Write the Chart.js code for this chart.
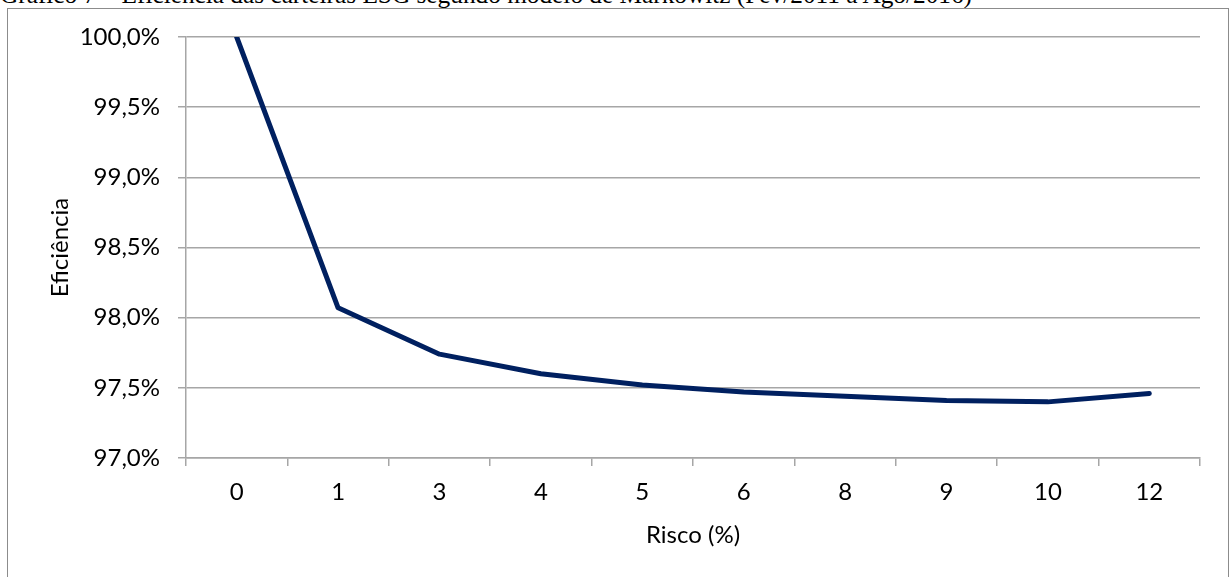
<!DOCTYPE html>
<html>
<head>
<meta charset="utf-8">
<script src="https://cdn.jsdelivr.net/npm/chart.js@4.4.1/dist/chart.umd.min.js"></script>
<style>
  body { margin: 0; background: #fff; width: 1230px; height: 577px; overflow: hidden; position: relative; }
  #title { position: absolute; left: 0; top: -18px; font: 25.3px "Liberation Serif"; line-height: 25px; white-space: nowrap; }
  #frame { position: absolute; left: 7px; top: 8px; width: 1220px; height: 600px; border: 1px solid #8c8c8c; }
  #chart { position: absolute; left: 8px; top: 9px; }
</style>
</head>
<body>
<div id="title">Gráfico 7 – Eficiência das carteiras ESG segundo modelo de Markowitz (Fev/2011 a Ago/2016)</div>
<div id="frame"></div>
<canvas id="chart" width="1219" height="568"></canvas>
<script>
  // Risk levels (x axis) and portfolio efficiency (%)
  const categories = ["0", "1", "3", "4", "5", "6", "8", "9", "10", "12"];
  const efficiency = [100.0, 98.07, 97.74, 97.60, 97.52, 97.47, 97.44, 97.41, 97.40, 97.46];
  const yMin = 97, yMax = 100, yStep = 0.5;

  const lineColor = "#002060";
  const gridColor = "#a6a6a6";

  Chart.defaults.font.family = "Lato";
  Chart.defaults.font.size = 24;
  Chart.defaults.color = "#000";

  function draw() {
    const ctx = document.getElementById("chart").getContext("2d");
    new Chart(ctx, {
      type: "line",
      data: {
        labels: categories,
        datasets: [{
          data: efficiency,
          borderColor: lineColor,
          borderWidth: 5,
          pointRadius: 0,
          tension: 0,
          borderJoinStyle: "round",
          borderCapStyle: "round",
          fill: false
        }]
      },
      options: {
        responsive: false,
        animation: false,
        layout: { padding: { left: 34, right: 27, top: 28, bottom: 23 } },
        plugins: { legend: { display: false }, tooltip: { enabled: false } },
        scales: {
          x: {
            offset: true,
            grid: { offset: true, drawOnChartArea: false, tickLength: 8, color: gridColor, lineWidth: 1.5 },
            border: { color: gridColor, width: 1.5 },
            ticks: { padding: 12 },
            title: { display: true, text: "Risco (%)" },
            afterFit: s => { s.height = 96; }
          },
          y: {
            min: yMin,
            max: yMax,
            ticks: {
              stepSize: yStep,
              padding: 18,
              callback: v => v.toFixed(1).replace(".", ",") + "%"
            },
            grid: { color: gridColor, lineWidth: 1.5, tickLength: 8 },
            border: { color: gridColor, width: 1.5 },
            title: { display: true, text: "Eficiência" },
            afterFit: s => {
              s.width = 144;
              s.paddingTop = 0;     // let layout padding decide the top edge
              s.paddingBottom = 0;
            }
          }
        }
      }
    });
  }

  document.fonts.load("24px Lato").then(draw, draw);
</script>
</body>
</html>
